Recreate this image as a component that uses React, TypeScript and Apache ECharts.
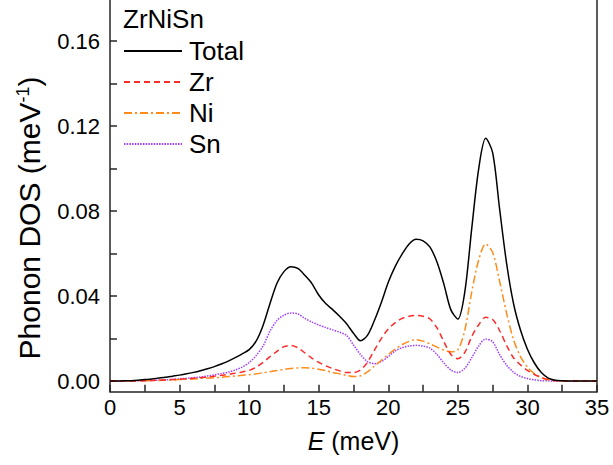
import React, { useEffect, useRef } from "react";
import * as echarts from "echarts";

const energy: number[] = [
  0, 0.5, 1, 1.5, 2, 2.5, 3, 3.5, 4, 4.5, 5, 5.5, 6, 6.5, 7, 7.5, 8, 8.5, 9, 9.5,
  10, 10.5, 11, 11.5, 12, 12.5, 13, 13.5, 14, 14.5, 15, 15.5, 16, 16.5, 17, 17.5,
  18, 18.5, 19, 19.5, 20, 20.5, 21, 21.5, 22, 22.5, 23, 23.5, 24, 24.5, 25, 25.5,
  26, 26.5, 27, 27.5, 28, 28.5, 29, 29.5, 30, 30.5, 31, 31.5, 32, 32.5, 33, 33.5,
  34, 34.5, 35,
];

const totalDos: number[] = [
  0, 0.00003, 0.0001, 0.0002, 0.0004, 0.0007, 0.001, 0.0014, 0.0018, 0.0023,
  0.0028, 0.0034, 0.0041, 0.0049, 0.0058, 0.0068, 0.008, 0.0094, 0.011, 0.0128,
  0.0148, 0.0188, 0.0262, 0.0365, 0.046, 0.0515, 0.0538, 0.053, 0.0498, 0.046,
  0.0405, 0.0365, 0.0336, 0.0305, 0.027, 0.0225, 0.019, 0.0215, 0.0285, 0.037,
  0.0465, 0.054, 0.0598, 0.0645, 0.0667, 0.066, 0.063, 0.056, 0.0455, 0.0335,
  0.0292, 0.042, 0.072, 0.1, 0.1142, 0.1075, 0.081, 0.0555, 0.0365, 0.024,
  0.015, 0.0085, 0.004, 0.0014, 0.0004, 0.0001, 0, 0, 0, 0, 0,
];

const zrDos: number[] = [
  0, 0.00001, 0.00003, 0.00007, 0.0001, 0.0002, 0.0003, 0.0004, 0.0005, 0.0007,
  0.0009, 0.0011, 0.0013, 0.0016, 0.0019, 0.0023, 0.0027, 0.0032, 0.0037, 0.0043,
  0.005, 0.0065, 0.0088, 0.0115, 0.014, 0.0162, 0.0168, 0.0157, 0.0133, 0.0108,
  0.0088, 0.0072, 0.0059, 0.0048, 0.004, 0.004, 0.0052, 0.0088, 0.0145, 0.02,
  0.0245, 0.0275, 0.0295, 0.0305, 0.0309, 0.0305, 0.0292, 0.025, 0.0185, 0.0125,
  0.0105, 0.0135, 0.021, 0.0265, 0.03, 0.029, 0.0238, 0.0168, 0.011, 0.0076,
  0.005, 0.0031, 0.0017, 0.0007, 0.0002, 0.0001, 0, 0, 0, 0, 0,
];

const niDos: number[] = [
  0, 0.00001, 0.00002, 0.00005, 0.0001, 0.00015, 0.0002, 0.0003, 0.0004, 0.0005,
  0.0007, 0.0008, 0.001, 0.0012, 0.0014, 0.0016, 0.0018, 0.0021, 0.0024, 0.0027,
  0.003, 0.0034, 0.0039, 0.0044, 0.005, 0.0055, 0.0059, 0.0062, 0.0063, 0.0061,
  0.0056, 0.0049, 0.0041, 0.0034, 0.0027, 0.0021, 0.0025, 0.0043, 0.007, 0.0098,
  0.0125, 0.015, 0.0172, 0.0187, 0.0195, 0.0188, 0.0175, 0.016, 0.0146, 0.0138,
  0.0147, 0.024, 0.042, 0.057, 0.0645, 0.0605, 0.047, 0.032, 0.0195, 0.0115,
  0.0066, 0.0035, 0.0016, 0.0006, 0.0002, 0.00005, 0, 0, 0, 0, 0,
];

const snDos: number[] = [
  0, 0.00001, 0.00004, 0.00008, 0.00015, 0.0002, 0.0003, 0.0005, 0.0006, 0.0008,
  0.0011, 0.0013, 0.0016, 0.0019, 0.0024, 0.0029, 0.0035, 0.0042, 0.0052, 0.0066,
  0.0087, 0.012, 0.0165, 0.0235, 0.0285, 0.031, 0.032, 0.0316, 0.0295, 0.0278,
  0.0264, 0.0252, 0.0241, 0.023, 0.0215, 0.017, 0.0125, 0.0092, 0.0082, 0.0092,
  0.0115, 0.0142, 0.0157, 0.0165, 0.0168, 0.0165, 0.0155, 0.0125, 0.0085, 0.0052,
  0.004, 0.006, 0.011, 0.0165, 0.0198, 0.0185, 0.0125, 0.0075, 0.0042, 0.0022,
  0.0012, 0.0006, 0.0002, 0.0001, 0, 0, 0, 0, 0, 0, 0,
];

const seriesNames: string[] = ["Total", "Zr", "Ni", "Sn"];
const compoundName = "ZrNiSn";
const yTitle = "Phonon DOS (meV{s|-1})";
const yLabelValues: number[] = [0, 0.04, 0.08, 0.12, 0.16];
const yTickValues: number[] = [0, 0.02, 0.04, 0.06, 0.08, 0.1, 0.12, 0.14, 0.16];

const FONT = "Liberation Sans, Arial, sans-serif";

export default function App() {
  const ref = useRef<HTMLDivElement>(null);

  useEffect(() => {
    if (!ref.current) return;
    const chart = echarts.init(ref.current, undefined, { renderer: "svg" });
    const pairs = (vals: number[]) => energy.map((e, i) => [e, vals[i]]);
    const axisColor = "#262626";
    const styles = [
      { color: "#000000", type: "solid" as any, data: totalDos },
      { color: "#ff2a2a", type: [6, 4] as any, data: zrDos },
      { color: "#ff8c1a", type: [8, 3, 2, 3] as any, data: niDos },
      { color: "#a040ff", type: [1.5, 1.2] as any, data: snDos },
    ];
    chart.setOption({
      animation: false,
      backgroundColor: "#ffffff",
      textStyle: { fontFamily: FONT },
      grid: { left: 110, right: 16, top: 0, bottom: 73.3, containLabel: false },
      legend: {
        orient: "vertical",
        left: 123,
        top: 38,
        padding: 0,
        itemWidth: 58,
        itemHeight: 14,
        itemGap: 5,
        data: seriesNames,
        itemStyle: { opacity: 0, color: "transparent", borderWidth: 0 },
        textStyle: { fontSize: 26, color: "#000", fontFamily: FONT, lineHeight: 26, padding: [0, 0, 0, 2] },
      },
      graphic: [
        {
          type: "text",
          x: 123,
          y: 19,
          style: {
            text: compoundName,
            font: `26px ${FONT}`,
            fill: "#000",
            align: "left",
            verticalAlign: "middle",
          },
        },
        {
          type: "text",
          x: 29,
          y: 218,
          rotation: Math.PI / 2,
          style: {
            text: yTitle,
            font: `30px ${FONT}`,
            fill: "#000",
            align: "center",
            verticalAlign: "middle",
            lineHeight: 30,
            rich: {
              s: { font: `18px ${FONT}`, fill: "#000", verticalAlign: "top", lineHeight: 30 },
            },
          },
        },
      ],
      xAxis: {
        type: "value",
        min: 0,
        max: 35,
        interval: 5,
        name: "{i|E} (meV)",
        nameLocation: "middle",
        nameGap: 37,
        nameTextStyle: {
          fontSize: 25,
          color: "#000",
          fontFamily: FONT,
          rich: { i: { fontStyle: "italic", fontSize: 25, fontFamily: FONT, color: "#000" } },
        },
        axisLine: { show: true, onZero: false, lineStyle: { color: axisColor, width: 1.5 } },
        axisTick: { show: true, inside: true, length: 7, lineStyle: { color: axisColor, width: 1.5 } },
        minorTick: { show: true, splitNumber: 2, length: 7, lineStyle: { color: axisColor, width: 1.5 } },
        axisLabel: { fontSize: 22, color: "#000", margin: 5, fontFamily: FONT },
        splitLine: { show: false },
      },
      yAxis: [
        {
          type: "value",
          min: -0.005,
          max: 0.1793,
          axisLine: { show: true, onZero: false, lineStyle: { color: axisColor, width: 1.5 } },
          axisTick: {
            show: true,
            inside: true,
            length: 7,
            customValues: yTickValues,
            lineStyle: { color: axisColor, width: 1.5 },
          },
          axisLabel: {
            fontSize: 22,
            color: "#000",
            margin: 10,
            fontFamily: FONT,
            customValues: yLabelValues,
            formatter: (v: number) => v.toFixed(2),
          },
          splitLine: { show: false },
        },
        {
          type: "value",
          position: "right",
          min: -0.005,
          max: 0.1793,
          axisLine: { show: true, onZero: false, lineStyle: { color: axisColor, width: 1.5 } },
          axisTick: { show: false },
          axisLabel: { show: false },
          splitLine: { show: false },
        },
      ],
      series: styles.map((s, i) => ({
        name: seriesNames[i],
        type: "line",
        yAxisIndex: 0,
        data: pairs(s.data),
        smooth: 0.3,
        symbol: "none",
        showSymbol: false,
        color: s.color,
        lineStyle: { color: s.color, width: 1.5, type: s.type },
        z: 10 - i,
      })),
    });
    return () => chart.dispose();
  }, []);

  return (
    <div
      ref={ref}
      style={{ position: "absolute", left: 0, top: 0, width: 613, height: 465 }}
    />
  );
}
